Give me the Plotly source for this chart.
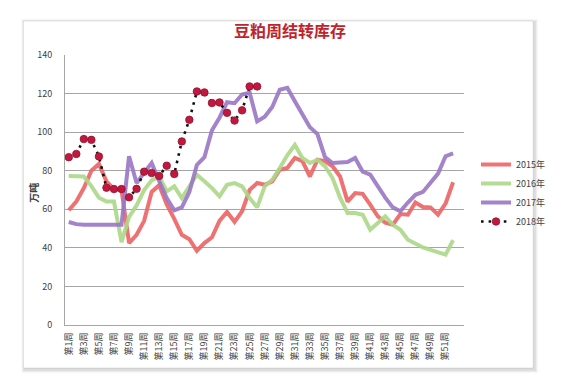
import plotly.graph_objects as go

weeks = [f"第{i}周" for i in range(1, 53)]
tick_labels = [f"第{i}周" for i in range(1, 52, 2)]
y_ticks = [0, 20, 40, 60, 80, 100, 120, 140]

s2015 = [59.5, 64, 71, 80, 83.5, 74.5, 70.5, 70, 42.5, 46.8, 54, 69, 72.5, 62.5, 55, 46.8,
         44.5, 38.5, 42.5, 45.5, 54, 58.6, 53.5, 59, 70, 73.6, 72.7, 74.5, 80.5, 81.4, 86.6, 85,
         77, 85.7, 85, 82.3, 77, 64, 68.4, 68, 62.4, 56.4, 53, 52, 57.5, 57.2, 63.5, 61.2,
         61, 57.2, 63, 74]
s2016 = [77.2, 77, 77, 72, 66, 64, 64, 43, 56, 62, 70, 75, 77, 69.3, 71.9, 65.8,
         72, 77.9, 74.5, 71, 66.7, 72.7, 73.6, 71.9, 65.8, 61, 71.9, 75.3, 81.4, 88, 93.4, 86.6,
         84, 85.7, 82.3, 76.2, 66, 58.1, 58.1, 57.2, 49.4, 53, 56.4, 52, 49.4, 44.2, 42, 40.2,
         39, 37.5, 36.5, 44]
s2017 = [53.4, 52.3, 52, 52, 52, 52, 52, 52, 87.5, 73.6, 79, 84, 74.5, 65.8, 59.5, 61,
         69, 83, 87, 101, 107.5, 115.5, 115, 119.5, 120.5, 105.6, 108, 113, 122, 123, 116, 109,
         102.5, 99, 87, 84, 84, 84.5, 86.6, 79.5, 78, 72, 66, 61, 59, 63.5, 67.5, 69,
         74, 78.5, 87.5, 89]
s2018 = [87, 88.7, 96.4, 96, 87.4, 71.2, 70.5, 70.5, 66.2, 70.6, 79.5, 78.8, 77.3, 82.6, 78.3, 95.2,
         106.4, 121.1, 120.6, 115.1, 115.4, 110, 106, 111.3, 123.7, 123.7]

# plot area geometry (pixels)
W, H = 567, 373
L, R, T, B = 56.5, 482.6, 47, 317
PW, PH = R - L, B - T

def px(x):
    return (x - L) / PW

def py(y):
    return (B - y) / PH

fig = go.Figure()

line_series = [("2015年", s2015, "#EE6466"), ("2016年", s2016, "#ACD888"), ("2017年", s2017, "#9A76C4")]
for name, vals, col in line_series:
    fig.add_trace(go.Scatter(x=weeks[:len(vals)], y=vals, name=name, mode="lines",
                             line=dict(color=col, width=4), opacity=0.9))

fig.add_trace(go.Scatter(x=weeks[:len(s2018)], y=s2018, name="2018年", mode="lines+markers",
                         line=dict(color="#111111", width=2.6, dash="2.6px,5px"),
                         marker=dict(size=7.5, color="#C4173F", line=dict(color="#8E1530", width=0.8))))

shapes = []
# card shadow
for i, a in enumerate([0.03, 0.045, 0.06]):
    d = 3 - i
    shapes.append(dict(type="rect", xref="paper", yref="paper", layer="below",
                       x0=px(12 - d + 1), x1=px(556 + d + 2), y0=py(360 + d + 2), y1=py(13 - d + 1),
                       fillcolor=f"rgba(0,0,0,{a})", line=dict(width=0)))
shapes.append(dict(type="rect", xref="paper", yref="paper", layer="below",
                   x0=px(12), x1=px(556), y0=py(360), y1=py(13),
                   fillcolor="white", line=dict(color="rgba(0,0,0,0.10)", width=1)))

fig.update_layout(
    width=W, height=H,
    margin=dict(l=L, r=W - R, t=T, b=H - B, pad=0),
    paper_bgcolor="white", plot_bgcolor="rgba(0,0,0,0)",
    font=dict(family="Noto Sans CJK SC, sans-serif", size=9, color="#595959"),
    title=dict(text="<b>豆粕周结转库存</b>", x=282 / W, xanchor="center", xref="container",
               y=1 - 23 / H, yanchor="middle", yref="container",
               font=dict(size=16, color="#C0232B", family="Noto Sans CJK SC")),
    shapes=shapes,
    showlegend=True,
    legend=dict(xref="container", yref="container", x=468 / W, y=1 - 142 / H,
                xanchor="left", yanchor="top", bgcolor="rgba(0,0,0,0)",
                font=dict(size=9, color="#404040"), tracegroupgap=0, itemwidth=30),
    annotations=[dict(text="<b>万吨</b>", xref="paper", yref="paper", x=px(22), y=py(185),
                      xanchor="center", yanchor="middle",
                      showarrow=False, textangle=-90, font=dict(size=10, color="#404040"))],
)

fig.update_xaxes(type="category", categoryorder="array", categoryarray=weeks,
                 range=[-0.5, 52.5], tickmode="array", tickvals=tick_labels, ticktext=tick_labels,
                 tickangle=-90, showgrid=False, showline=True, linecolor="#A6A6A6", linewidth=1,
                 ticks="", tickfont=dict(size=9, color="#404040"), ticklabelstandoff=3, zeroline=False)
fig.update_yaxes(range=[0, 140], tickmode="array", tickvals=y_ticks, showgrid=True,
                 gridcolor="#A6A6A6", gridwidth=1, showline=True, linecolor="#A6A6A6", linewidth=1,
                 zeroline=False, ticks="", tickfont=dict(size=9, color="#404040"), ticklabelstandoff=10)

fig.write_html("out.html")
